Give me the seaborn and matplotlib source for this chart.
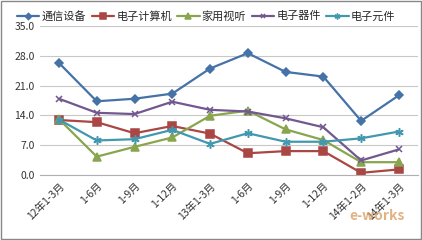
import numpy as np
import pandas as pd
import matplotlib
matplotlib.use("Agg")
import matplotlib.pyplot as plt
import seaborn as sns
from matplotlib.patches import Rectangle

categories = ["12年1-3月", "1-6月", "1-9月", "1-12月", "13年1-3月",
              "1-6月", "1-9月", "1-12月", "14年1-2月", "14年1-3月"]

comm_equipment = [26.3, 17.3, 17.9, 19.1, 25.0, 28.6, 24.2, 23.1, 12.7, 18.7]
computers = [12.9, 12.4, 9.8, 11.5, 9.7, 5.1, 5.6, 5.6, 0.5, 1.3]
home_av = [13.1, 4.3, 6.6, 8.8, 13.9, 15.1, 10.7, 8.2, 3.0, 3.0]
devices = [17.9, 14.6, 14.3, 17.2, 15.3, 14.9, 13.3, 11.2, 3.4, 6.0]
components = [13.0, 8.1, 8.4, 10.6, 7.3, 9.8, 7.8, 7.8, 8.6, 10.2]

series_names = ["通信设备", "电子计算机", "家用视听", "电子器件", "电子元件"]
colors = ["#4572A7", "#AA4643", "#89A54E", "#71588F", "#4198AF"]
markers = ["D", "s", "^", "x", (6, 2, 0)]
marker_sizes = [4.5, 5.5, 5.5, 5, 6]


def build_frame():
    df = pd.DataFrame({
        "x": np.arange(len(categories)),
        "通信设备": comm_equipment,
        "电子计算机": computers,
        "家用视听": home_av,
        "电子器件": devices,
        "电子元件": components,
    })
    return df.melt(id_vars="x", var_name="series", value_name="value")


def plot_chart(df):
    sns.set_style("white")
    plt.rcParams["font.family"] = ["Noto Sans CJK SC", "DejaVu Sans"]

    fig = plt.figure(figsize=(4.22, 2.40), dpi=100)
    ax = fig.add_axes([0.095, 0.271, 0.895, 0.621])

    for name, color, mk, ms in zip(series_names, colors, markers, marker_sizes):
        sub = df[df["series"] == name]
        sns.lineplot(x="x", y="value", data=sub, ax=ax, color=color,
                     marker=mk, markersize=ms, linewidth=1.6, label=name,
                     markeredgecolor=color, markeredgewidth=1.1)

    ax.set_xlim(-0.5, len(categories) - 0.5)
    ax.set_ylim(0, 35)
    ax.set_yticks(np.arange(0, 35.1, 7))
    ax.set_yticklabels([f"{v:.1f}" for v in np.arange(0, 35.1, 7)],
                       fontsize=7.5, color="#333333")
    ax.set_xticks(np.arange(len(categories)))
    ax.set_xticklabels(categories, rotation=45, ha="right",
                       rotation_mode="anchor", fontsize=7.5, color="#333333")
    ax.tick_params(axis="both", length=0, pad=4)
    ax.set_xlabel("")
    ax.set_ylabel("")
    ax.grid(axis="y", color="#c8c8c8", linewidth=0.8)
    for side in ["left", "right", "top"]:
        ax.spines[side].set_visible(False)
    ax.spines["bottom"].set_color("#b0b0b0")

    ax.legend(loc="lower center", bbox_to_anchor=(0.44, 1.0), ncol=5,
              frameon=False, fontsize=8, handlelength=2.0, markerscale=0.7,
              columnspacing=0.5, handletextpad=0.2, borderaxespad=0)

    fig.text(0.96, 0.085, "e-works", fontsize=10, color="#d9a066",
             style="italic", fontweight="bold", ha="right", alpha=0.8)

    fig.patches.append(Rectangle((0.003, 0.005), 0.994, 0.99,
                                 transform=fig.transFigure, fill=False,
                                 edgecolor="#888888", linewidth=1))
    fig.savefig("out.png", dpi=100)


if __name__ == "__main__":
    plot_chart(build_frame())
